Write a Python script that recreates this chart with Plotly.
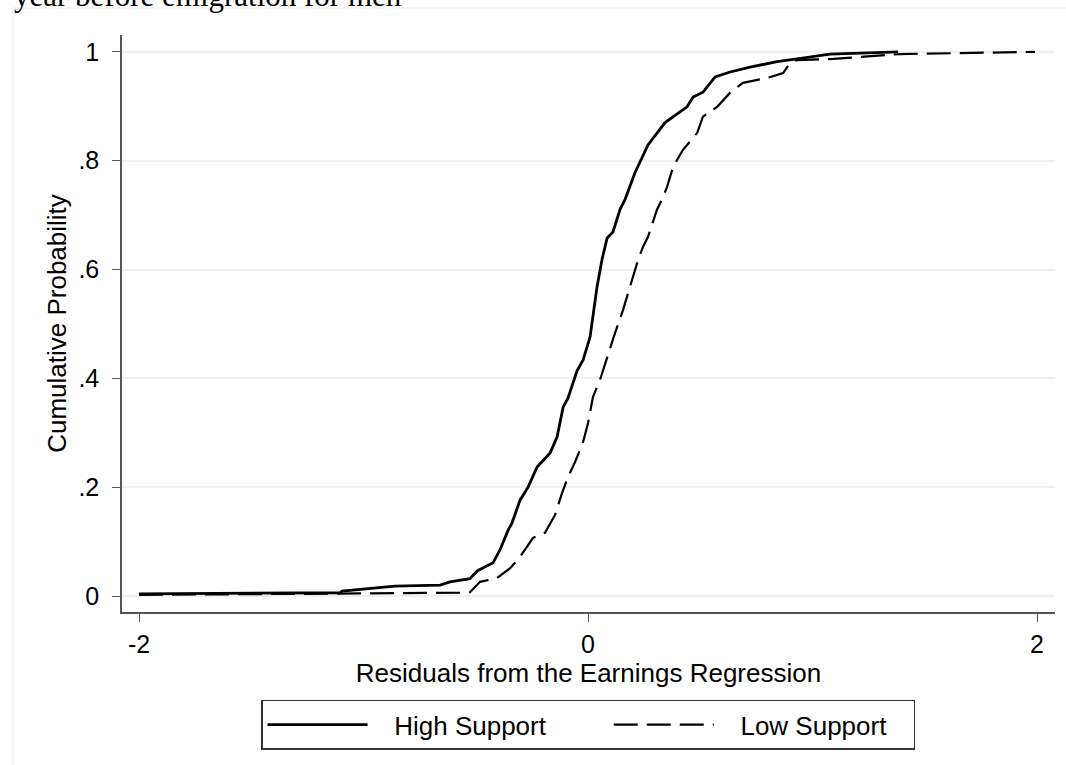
import plotly.graph_objects as go

high_x = [-2.0, -1.105, -1.096, -0.993, -0.860, -0.659, -0.615, -0.526, -0.494, -0.423,
          -0.392, -0.356, -0.339, -0.303, -0.267, -0.227, -0.169, -0.138, -0.111, -0.089,
          -0.049, -0.022, 0.009, 0.040, 0.062, 0.085, 0.111, 0.143, 0.165, 0.209,
          0.267, 0.343, 0.441, 0.468, 0.512, 0.566, 0.633, 0.722, 0.842, 0.931,
          1.020, 1.078, 1.381]
high_y = [0.004, 0.006, 0.009, 0.013, 0.018, 0.020, 0.026, 0.032, 0.046, 0.061,
          0.085, 0.121, 0.134, 0.176, 0.200, 0.237, 0.263, 0.292, 0.347, 0.364,
          0.414, 0.434, 0.476, 0.568, 0.618, 0.658, 0.669, 0.711, 0.729, 0.778,
          0.829, 0.870, 0.899, 0.917, 0.926, 0.954, 0.963, 0.972, 0.982, 0.987,
          0.993, 0.996, 1.0]

# Low Support (dashed) empirical CDF
low_x = [-2.0, -0.927, -0.570, -0.526, -0.517, -0.481, -0.405, -0.347, -0.303, -0.245,
         -0.192, -0.147, -0.116, -0.089, -0.058, -0.022, 0.0, 0.022, 0.053, 0.085,
         0.120, 0.156, 0.196, 0.223, 0.245, 0.267, 0.307, 0.334, 0.352, 0.379,
         0.423, 0.486, 0.512, 0.575, 0.633, 0.690, 0.797, 0.869, 0.900, 0.931,
         1.091, 1.269, 1.390, 1.991]
low_y = [0.002, 0.004, 0.006, 0.007, 0.011, 0.026, 0.033, 0.051, 0.072, 0.107,
         0.116, 0.149, 0.189, 0.219, 0.246, 0.283, 0.318, 0.366, 0.397, 0.440,
         0.483, 0.526, 0.581, 0.618, 0.642, 0.660, 0.710, 0.733, 0.752, 0.789,
         0.820, 0.851, 0.881, 0.899, 0.925, 0.943, 0.952, 0.961, 0.980, 0.985,
         0.987, 0.993, 0.996, 1.0]

series_names = ["High Support", "Low Support"]
y_ticks = [0, 0.2, 0.4, 0.6, 0.8, 1.0]
y_tick_labels = ["0", ".2", ".4", ".6", ".8", "1"]
x_ticks = [-2, 0, 2]
x_tick_labels = ["-2", "0", "2"]

FONT = "Liberation Sans, Arial, sans-serif"
AX = "#555555"
NB = "\u00a0"

fig = go.Figure()
fig.add_trace(go.Scatter(x=high_x, y=high_y, mode="lines",
                         name=NB * 3 + series_names[0] + NB * 8,
                         line=dict(color="black", width=2.8)))
fig.add_trace(go.Scatter(x=low_x, y=low_y, mode="lines",
                         name=NB * 3 + series_names[1] + NB * 3,
                         line=dict(color="black", width=2.2, dash="24px,9px")))

fig.update_layout(
    width=1066, height=765,
    margin=dict(l=122, r=11, t=35, b=153),
    paper_bgcolor="white", plot_bgcolor="white",
    font=dict(family=FONT, size=26, color="black"),
    showlegend=True,
    legend=dict(orientation="h", x=0.4995, xanchor="center", y=-0.152, yanchor="top",
                bordercolor="#333333", borderwidth=1.5, bgcolor="white",
                font=dict(family=FONT, size=26), itemwidth=100),
    xaxis=dict(range=[-2.076, 2.080], tickvals=x_ticks, ticktext=x_tick_labels,
               showgrid=False, zeroline=False, showline=True, linecolor=AX,
               linewidth=1.5, ticks="outside", ticklen=8, tickcolor=AX,
               tickfont=dict(size=25), ticklabelstandoff=1,
               title=dict(text="Residuals from the Earnings Regression",
                          font=dict(size=26), standoff=4)),
    yaxis=dict(range=[-0.0294, 1.031], tickvals=y_ticks, ticktext=y_tick_labels,
               showgrid=True, gridcolor="#EAF2F3", gridwidth=1.5, zeroline=False,
               showline=True, linecolor=AX, linewidth=1.5, ticks="outside",
               ticklen=8, tickcolor=AX, tickfont=dict(size=25), ticklabelstandoff=8,
               title=dict(text="Cumulative Probability", font=dict(size=26), standoff=4)),
)

# faint outer graph-region border (partially visible)
fig.add_shape(type="rect", xref="paper", yref="paper", x0=-0.1168, x1=1.05, y0=-0.4, y1=1.0468,
              line=dict(color="#EEEEEE", width=1), layer="below")

# cropped caption text at the very top of the image (cut off as in the reference)
fig.add_annotation(text="year before emigration for men", xref="paper", yref="paper",
                   x=-0.118, y=1.035, xanchor="left", yanchor="bottom", showarrow=False,
                   font=dict(family="Liberation Serif, Times New Roman, serif", size=31, color="black"))

fig.write_html("out.html", config={"displayModeBar": False},
               post_script="document.body.style.margin='0px';")
